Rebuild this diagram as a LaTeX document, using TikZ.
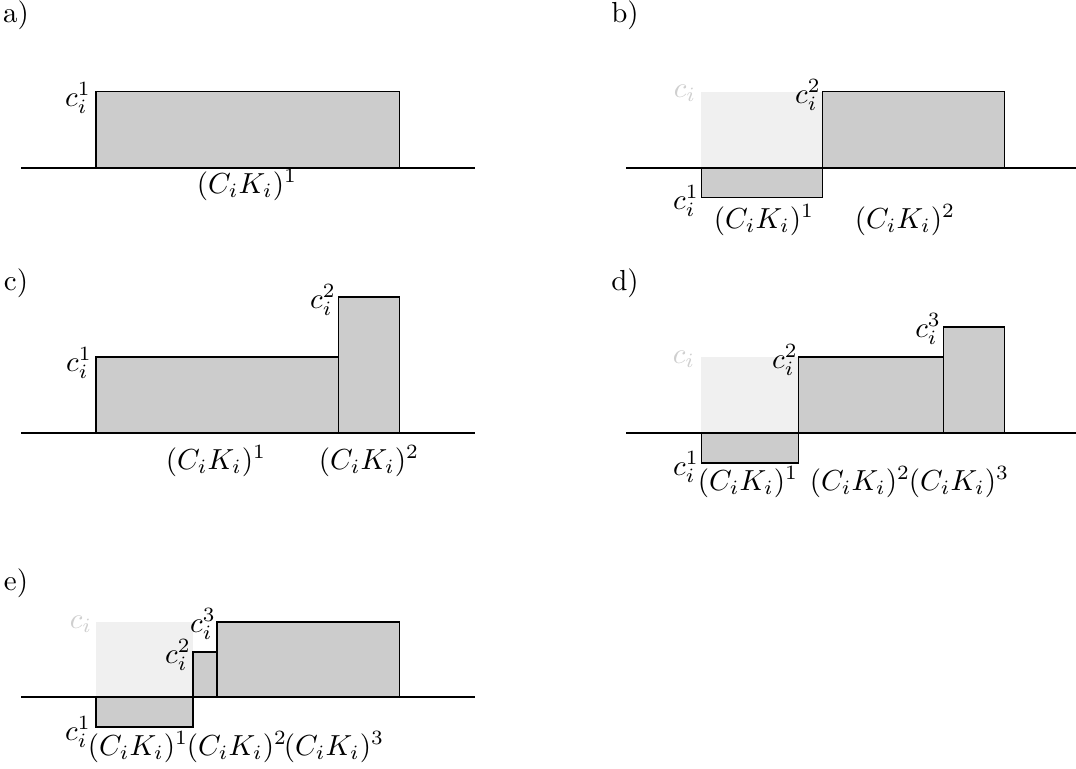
\documentclass[tikz,border=0pt]{standalone}
\begin{document}
\begin{tikzpicture}[x=0.345pt,y=-0.345pt,
  bar/.style={fill=barfill,draw=black,line width=0.35pt},
  ghost/.style={fill=ghostfill,draw=none},
  axis/.style={draw=black,line width=0.55pt},
  lbl/.style={inner sep=0pt,anchor=center},
  ghostlbl/.style={inner sep=0pt,anchor=center,text=ghosttext}]
\definecolor{barfill}{HTML}{CCCCCC}
\definecolor{ghostfill}{HTML}{F0F0F0}
\definecolor{ghosttext}{HTML}{CFCFCF}
\useasboundingbox (0,0) rectangle (1076,769);

% ---- a) ----
\node[lbl] (la) at (16,15) {a)};
\filldraw[bar] (96,92) rectangle (399,168);
\draw[axis] (21,168) -- (475,168);
\node[lbl] (a1) at (78,98) {$c_i^1$};
\node[lbl] (ak1) at (247,185) {$(C_iK_i)^1$};

% ---- b) ----
\node[lbl] (lb) at (625,15) {b)};
\fill[ghost] (701,92) rectangle (822,168);
\filldraw[bar] (701,168) rectangle (822,198);
\filldraw[bar] (822,92) rectangle (1004,168);
\draw[axis] (626,168) -- (1076,168);
\node[ghostlbl] (b0) at (685,93) {$c_i$};
\node[lbl] (b2) at (808,95) {$c_i^2$};
\node[lbl] (b1) at (686,201) {$c_i^1$};
\node[lbl] (bk1) at (764,220) {$(C_iK_i)^1$};
\node[lbl] (bk2) at (905,220) {$(C_iK_i)^2$};

% ---- c) ----
\node[lbl] (lc) at (16,283) {c)};
\filldraw[bar] (96,357) rectangle (338,433);
\filldraw[bar] (338,297) rectangle (399,433);
\draw[axis] (21,433) -- (475,433);
\node[lbl] (c1) at (79,363) {$c_i^1$};
\node[lbl] (c2) at (323,300) {$c_i^2$};
\node[lbl] (ck1) at (216,461) {$(C_iK_i)^1$};
\node[lbl] (ck2) at (369,461) {$(C_iK_i)^2$};

% ---- d) ----
\node[lbl] (ld) at (625,283) {d)};
\fill[ghost] (701,357) rectangle (798,433);
\filldraw[bar] (701,433) rectangle (798,463);
\filldraw[bar] (798,357) rectangle (943,433);
\filldraw[bar] (943,327) rectangle (1004,433);
\draw[axis] (626,433) -- (1076,433);
\node[ghostlbl] (d0) at (684,359) {$c_i$};
\node[lbl] (d2) at (785,360) {$c_i^2$};
\node[lbl] (d3) at (928,329) {$c_i^3$};
\node[lbl] (d1) at (686,467) {$c_i^1$};
\node[lbl] (dk1) at (748,482) {$(C_iK_i)^1$};
\node[lbl] (dk2) at (860,482) {$(C_iK_i)^2$};
\node[lbl] (dk3) at (959,482) {$(C_iK_i)^3$};

% ---- e) ----
\node[lbl] (le) at (16,583) {e)};
\fill[ghost] (96,622) rectangle (193,697);
\filldraw[bar] (96,697) rectangle (193,727);
\filldraw[bar] (193,652) rectangle (217,697);
\filldraw[bar] (217,622) rectangle (399,697);
\draw[axis] (21,697) -- (475,697);
\node[ghostlbl] (e0) at (81,624) {$c_i$};
\node[lbl] (e3) at (203,624) {$c_i^3$};
\node[lbl] (e2) at (178,655) {$c_i^2$};
\node[lbl] (e1) at (78,732) {$c_i^1$};
\node[lbl] (ek1) at (138,747) {$(C_iK_i)^1$};
\node[lbl] (ek2) at (237,747) {$(C_iK_i)^2$};
\node[lbl] (ek3) at (334,747) {$(C_iK_i)^3$};
\end{tikzpicture}
\end{document}
